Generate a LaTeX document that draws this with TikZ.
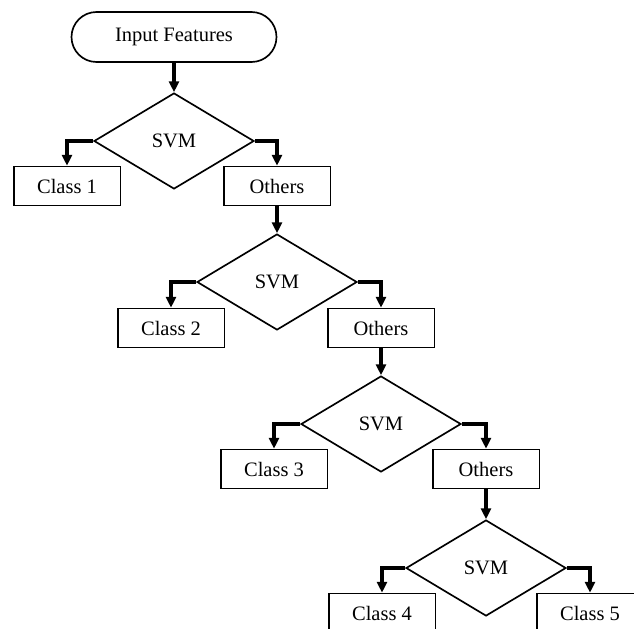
\documentclass[tikz,border=0pt]{standalone}
\usepackage{fontspec}
\setmainfont{Liberation Serif}
\usetikzlibrary{shapes.geometric,arrows.meta}

\tikzset{
  startbox/.style={draw, line width=1pt, rounded corners=15pt, minimum width=123pt, minimum height=30pt, inner sep=0pt},
  svmbox/.style={draw, line width=1pt, diamond, minimum width=96pt, minimum height=57.6pt, inner sep=0pt},
  classbox/.style={draw, line width=1pt, rectangle, minimum width=64pt, minimum height=23.4pt, inner sep=0pt},
  arr/.style={line width=1.9pt, -{Triangle[length=6.5pt,width=6pt]}}
}

\begin{document}
\begin{tikzpicture}[x=0.6pt,y=-0.6pt,font=\fontsize{12.3}{14}\selectfont]
\useasboundingbox (0,0) rectangle (634,628);
\clip (0,0) rectangle (634,628);
\fill[white] (0,0) rectangle (634,628);

\node[startbox] (in) at (174,37) {Input Features};

% level 1
\node[svmbox] (svm1) at (174,141) {SVM};
\node[classbox] (cls1) at (67,186) {Class 1};
\node[classbox] (oth1) at (277,186) {Others};

% level 2
\node[svmbox] (svm2) at (277,282) {SVM};
\node[classbox] (cls2) at (171,328) {Class 2};
\node[classbox] (oth2) at (381,328) {Others};

% level 3
\node[svmbox] (svm3) at (381,424) {SVM};
\node[classbox] (cls3) at (274,469) {Class 3};
\node[classbox] (oth3) at (486,469) {Others};

% level 4
\node[svmbox] (svm4) at (486,568) {SVM};
\node[classbox] (cls4) at (382,613) {Class 4};
\node[classbox] (cls5) at (590,613) {Class 5};

\draw[arr] (in) -- (svm1.north);
\draw[arr] (svm1.west) -| (cls1.north);
\draw[arr] (svm1.east) -| (oth1.north);
\draw[arr] (oth1) -- (svm2.north);
\draw[arr] (svm2.west) -| (cls2.north);
\draw[arr] (svm2.east) -| (oth2.north);
\draw[arr] (oth2) -- (svm3.north);
\draw[arr] (svm3.west) -| (cls3.north);
\draw[arr] (svm3.east) -| (oth3.north);
\draw[arr] (oth3) -- (svm4.north);
\draw[arr] (svm4.west) -| (cls4.north);
\draw[arr] (svm4.east) -| (cls5.north);

\end{tikzpicture}
\end{document}
